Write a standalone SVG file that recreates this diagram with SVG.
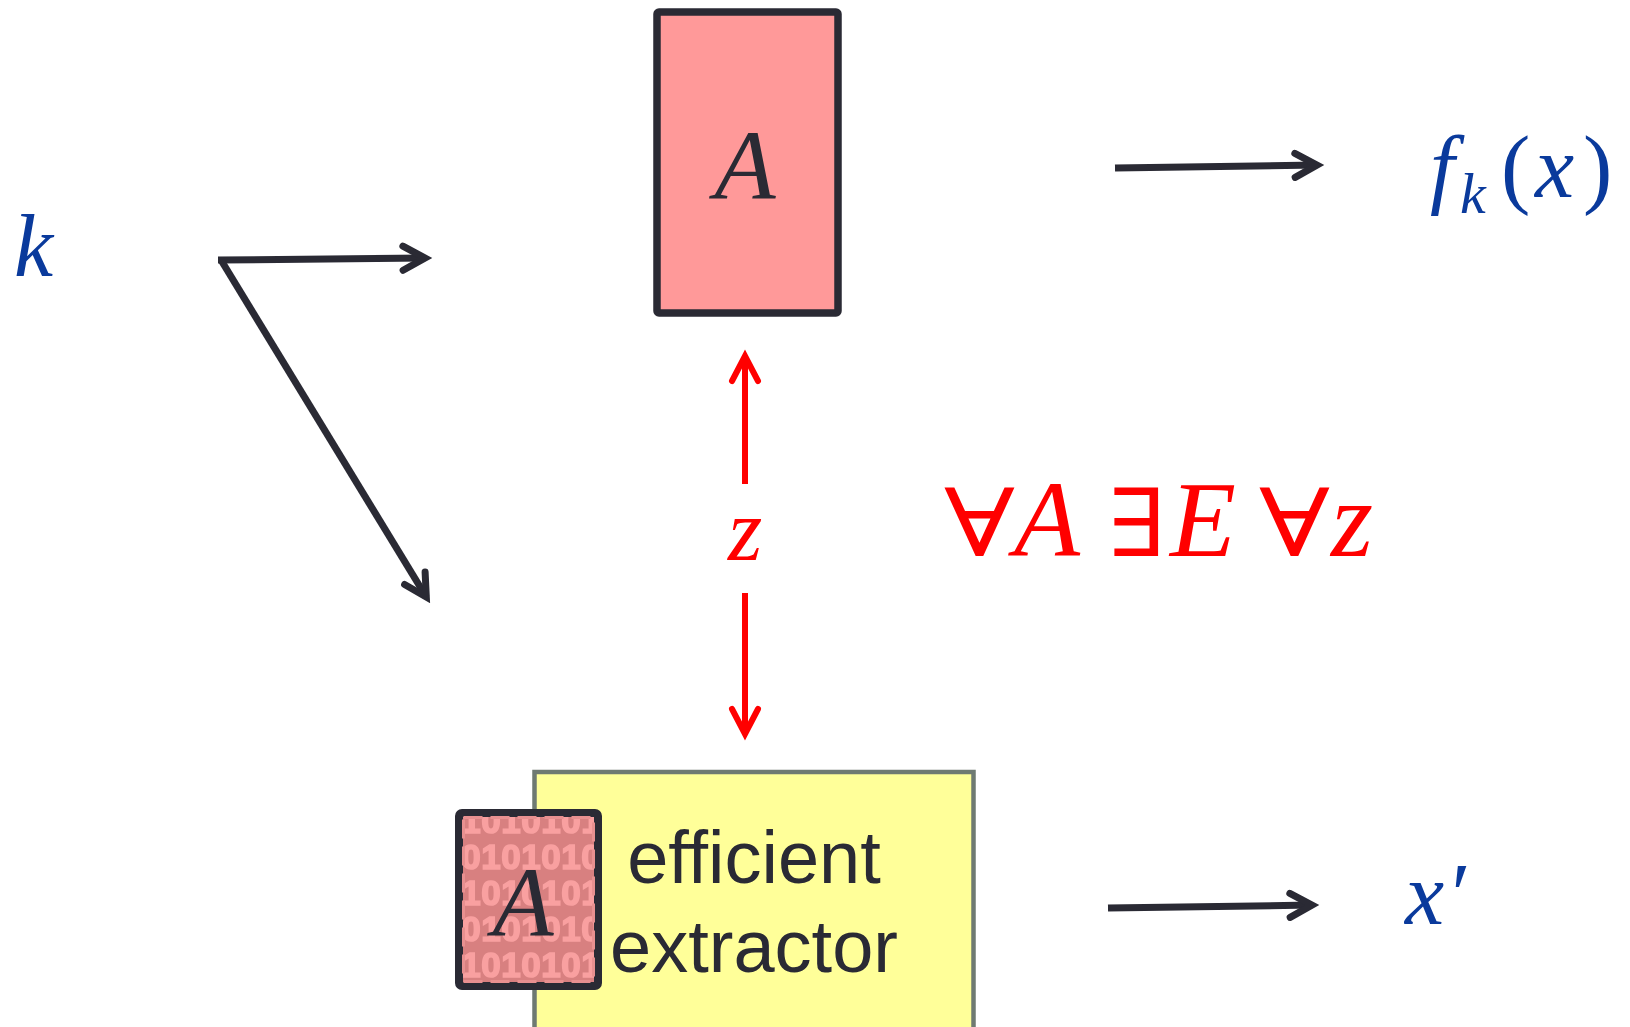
<svg xmlns="http://www.w3.org/2000/svg" width="1630" height="1027" viewBox="0 0 1630 1027">
<style>
.conn{fill:none;stroke:#2a2a34;stroke-width:7;}
.red{fill:none;stroke:#ff0000;stroke-width:6;}
.math{font-family:"Liberation Serif","DejaVu Serif",serif;font-style:italic;}
.sym{font-family:"DejaVu Serif","Liberation Serif",serif;font-style:normal;}
.blue{fill:#0a3a9c;}
.label{font-family:"Liberation Sans",Arial,sans-serif;fill:#2a2a34;}
.bit{font-family:"Liberation Sans",Arial,sans-serif;font-weight:bold;font-size:35px;fill:#f9a0a0;stroke:#f9a0a0;stroke-width:1.6;text-anchor:middle;}
</style>
<defs>
<marker id="arrB" markerUnits="userSpaceOnUse" orient="auto" markerWidth="60" markerHeight="60" refX="0" refY="0" viewBox="-30 -30 60 60" overflow="visible">
<path d="M-22,-12 L0,0 L-22,12" fill="none" stroke="#2a2a34" stroke-width="7" stroke-linecap="round" stroke-linejoin="miter"/>
</marker>
<marker id="arrR" markerUnits="userSpaceOnUse" orient="auto" markerWidth="60" markerHeight="60" refX="0" refY="0" viewBox="-30 -30 60 60" overflow="visible">
<path d="M-25,-13 L0,0 L-25,13" fill="none" stroke="#ff0000" stroke-width="6" stroke-linecap="round" stroke-linejoin="miter"/>
</marker>
<pattern id="bits" patternUnits="userSpaceOnUse" x="461" y="802" width="40" height="72">
<rect x="0" y="0" width="40" height="72" fill="#d88080"/>
<text class="bit" x="10" y="31">1</text>
<text class="bit" x="30" y="31">0</text>
<text class="bit" x="10" y="67">0</text>
<text class="bit" x="30" y="67">1</text>
</pattern>
</defs>

<g id="connectors">
<line class="conn" x1="218" y1="260" x2="425" y2="258" marker-end="url(#arrB)"/>
<line class="conn" x1="221" y1="260" x2="426.3" y2="597" marker-end="url(#arrB)"/>
<line class="conn" x1="1115" y1="168" x2="1317" y2="165.1" marker-end="url(#arrB)"/>
<line class="conn" x1="1108" y1="908" x2="1312" y2="905.1" marker-end="url(#arrB)"/>
<line class="red" x1="745" y1="484" x2="745" y2="356" marker-end="url(#arrR)"/>
<line class="red" x1="745" y1="593" x2="745" y2="734" marker-end="url(#arrR)"/>
</g>

<g id="node-k">
<text class="math blue" x="14" y="276" font-size="88">k</text>
</g>

<g id="node-A">
<rect x="657" y="12" width="181" height="301" rx="2" fill="#ff9999" stroke="#2a2a34" stroke-width="7.5"/>
<text class="math" x="745" y="199" font-size="100" text-anchor="middle" fill="#2a2a34">A</text>
</g>

<g id="node-fkx">
<text class="blue" font-size="88" y="197"><tspan class="math" x="1430">f</tspan><tspan class="math" x="1460" y="213" font-size="58">k</tspan><tspan x="1501" y="197" font-family="Liberation Serif,serif">(</tspan><tspan class="math" x="1535" y="197">x</tspan><tspan x="1583" y="197" font-family="Liberation Serif,serif">)</tspan></text>
</g>

<g id="label-z">
<text class="math" x="745" y="560" font-size="88" text-anchor="middle" fill="#ff0000">z</text>
</g>

<g id="formula" fill="#ff0000">
<text class="sym" font-size="94" transform="translate(944,556) scale(1.25,1)">∀</text>
<text class="math" font-size="108" x="1014" y="556">A</text>
<text class="sym" font-size="94" transform="translate(1108,556) scale(1.15,1)">∃</text>
<text class="math" font-size="108" x="1170" y="556">E</text>
<text class="sym" font-size="94" transform="translate(1259,556) scale(1.25,1)">∀</text>
<text class="math" font-size="108" x="1331" y="556">z</text>
</g>

<g id="node-extractor">
<rect x="534.5" y="772" width="439" height="270" fill="#ffff99" stroke="#6f7a72" stroke-width="4.5"/>
<text class="label" x="754" y="883" font-size="74" text-anchor="middle">efficient</text>
<text class="label" x="754" y="972" font-size="74" text-anchor="middle">extractor</text>
</g>

<g id="node-A-obf">
<rect x="459" y="813" width="139" height="173" rx="3" fill="url(#bits)" stroke="#2a2a34" stroke-width="8"/>
<rect x="463.5" y="817.5" width="130" height="164" fill="none" stroke="#e89090" stroke-width="3" stroke-dasharray="19 8"/>
<text class="math" x="523" y="936" font-size="100" text-anchor="middle" fill="#2a2a34">A</text>
</g>

<g id="node-xprime">
<text class="blue" font-size="88" y="924"><tspan class="math" x="1405">x</tspan><tspan class="math" x="1446">′</tspan></text>
</g>
</svg>
